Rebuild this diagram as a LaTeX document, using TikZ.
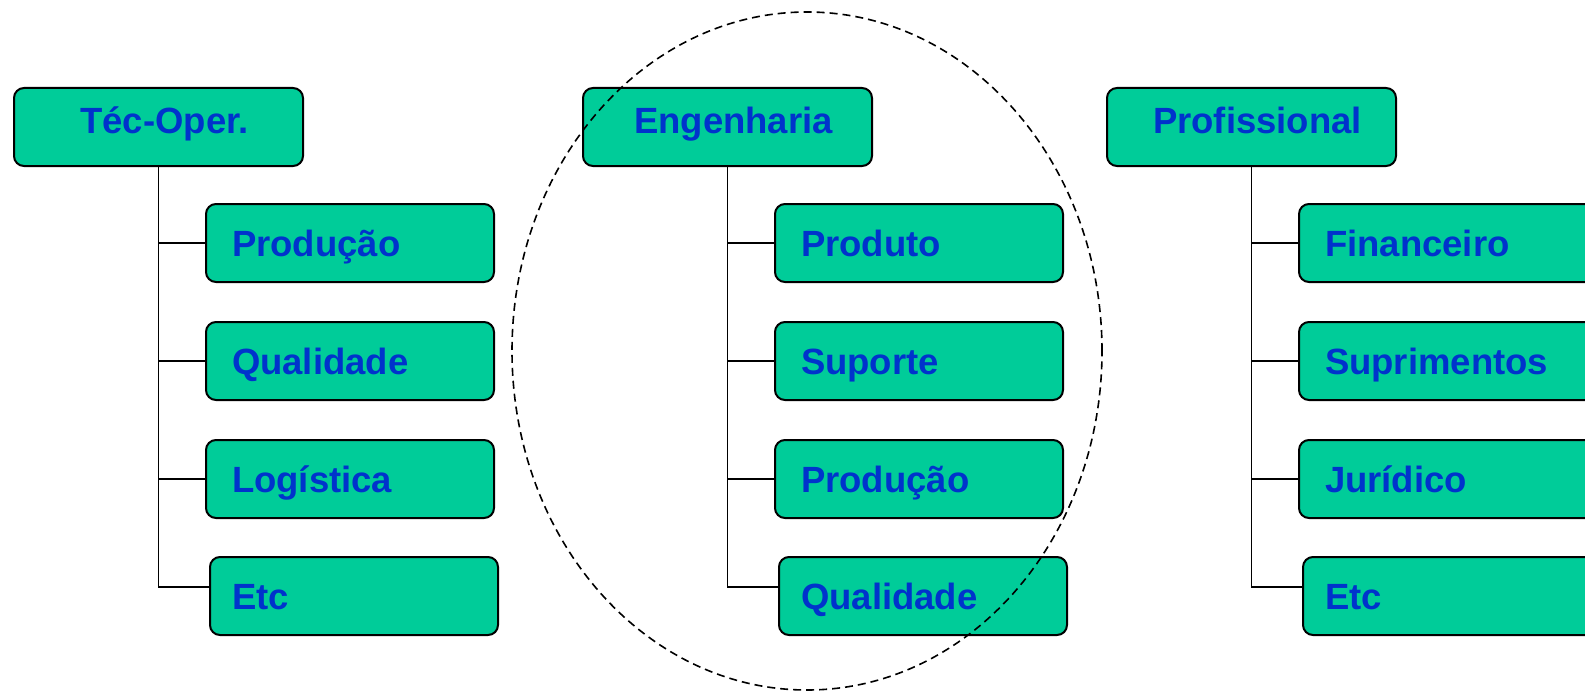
\documentclass[tikz,border=0pt]{standalone}
\usepackage{fontspec}
\setmainfont{Liberation Sans}
\usepackage{tikz}
\definecolor{verde}{HTML}{00CC99}
\definecolor{azul}{HTML}{0033CC}

\tikzset{
  caixa/.style={draw=black, line width=2bp, fill=verde, rounded corners=10bp,
    text=azul, font=\fontsize{36.5bp}{40bp}\selectfont\bfseries},
  chefe/.style={caixa, anchor=north west, text width=249bp, inner xsep=20bp,
    align=center, text height=26bp, text depth=14bp, inner ysep=19bp,
    execute at begin node=\hspace*{12bp}},
  area/.style={caixa, anchor=west, text width=236bp, inner xsep=26bp,
    align=left, text height=26bp, text depth=0bp, inner ysep=26bp},
  ramo/.style={line width=1.8bp},
}

\begin{document}
\begin{tikzpicture}[x=1bp,y=-1bp]
  \useasboundingbox (0,0) rectangle (1585,691);
  % cargos
  \node[chefe] (tec) at (13,87) {Téc-Oper.};
  \node[chefe] (eng) at (582,87) {Engenharia};
  \node[chefe] (prof) at (1106,87) {Profissional};
  % areas
  \node[area] (tec1) at (205,243) {Produção};
  \node[area] (tec2) at (205,361) {Qualidade};
  \node[area] (tec3) at (205,479) {Logística};
  \node[area,inner xsep=22bp,text width=244bp] (tec4) at (209,596) {Etc};
  \node[area] (eng1) at (774,243) {Produto};
  \node[area] (eng2) at (774,361) {Suporte};
  \node[area] (eng3) at (774,479) {Produção};
  \node[area,inner xsep=22bp,text width=244bp] (eng4) at (778,596) {Qualidade};
  \node[area,text width=300bp] (prof1) at (1298,243) {Financeiro};
  \node[area,text width=300bp] (prof2) at (1298,361) {Suprimentos};
  \node[area,text width=300bp] (prof3) at (1298,479) {Jurídico};
  \node[area,inner xsep=22bp,text width=308bp] (prof4) at (1302,596) {Etc};
  % ligacoes
  \foreach \c in {tec,eng,prof}{
    \draw[ramo] (\c.south) |- ([yshift=9bp]\c4.west);
    \foreach \i in {1,2,3}
      \draw[ramo] (\c.south |- \c\i.west) -- (\c\i.west);
  }
  % destaque
  \coordinate (foco) at (807,351);
  \draw[line width=1.6bp, dash pattern=on 8bp off 5bp] (foco) ellipse [x radius=295bp, y radius=339bp];
\end{tikzpicture}
\end{document}
